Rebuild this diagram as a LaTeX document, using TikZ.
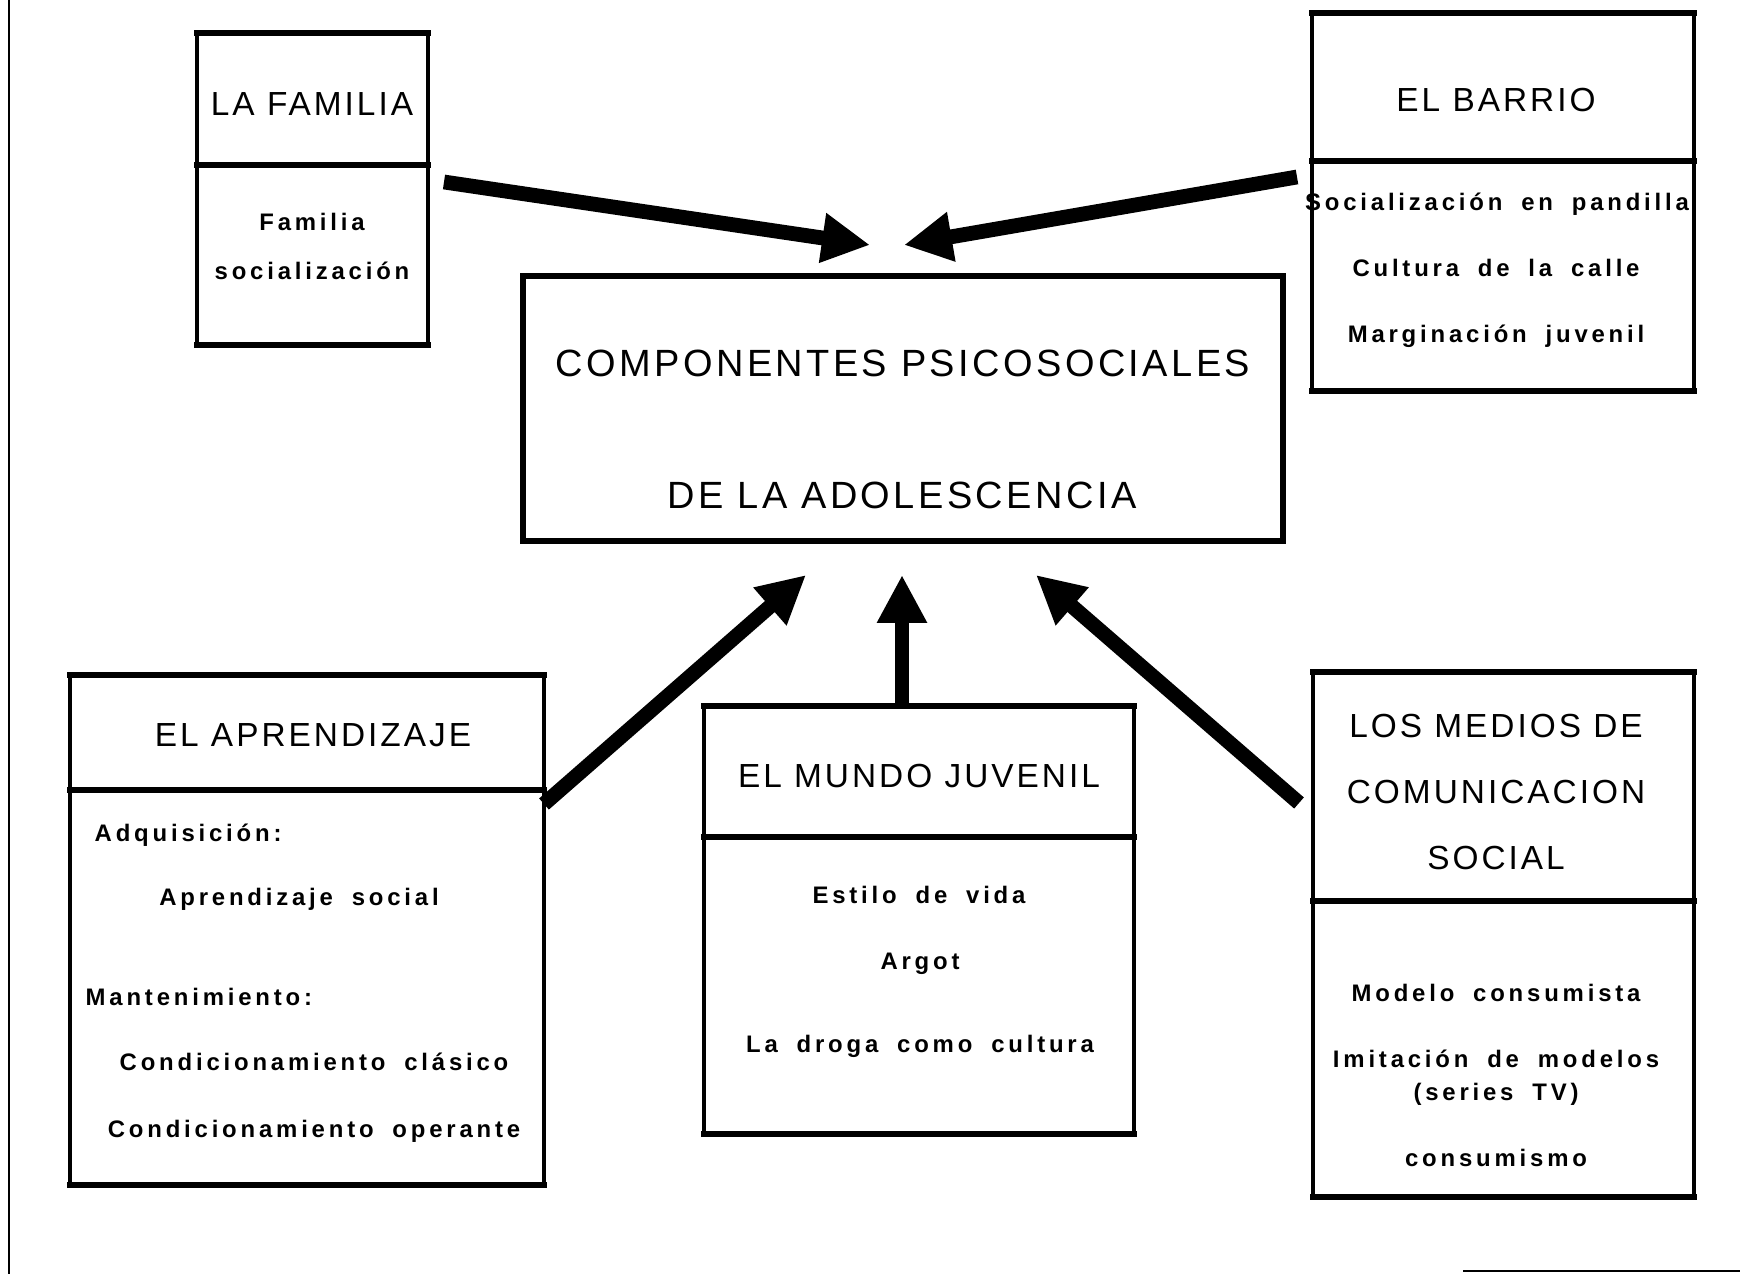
\documentclass[tikz,border=0pt]{standalone}
\usepackage{fontspec}
\setmainfont{Liberation Sans}
\newfontfamily\capsfont[LetterSpace=9]{Liberation Sans}
\newfontfamily\linesfont[LetterSpace=16,WordSpace=1.8]{Liberation Sans}
\usetikzlibrary{arrows.meta}

\begin{document}
\begin{tikzpicture}[y=-1cm,
  frame/.style={draw,line width=0.9pt,anchor=north west,inner sep=0pt,outer sep=0pt},
  head/.style={anchor=north west,inner sep=0pt,outer sep=0pt},
  rule/.style={line width=1.5pt,line cap=rect},
  headtext/.style={font=\capsfont\fontsize{9.5}{11}\selectfont,inner sep=0pt,text height=6.8pt,text depth=0pt},
  bigtext/.style={font=\capsfont\fontsize{10.8}{12}\selectfont,inner sep=0pt,text height=7.7pt,text depth=0pt},
  entry/.style={font=\linesfont\bfseries\fontsize{6.8}{8}\selectfont,inner sep=0pt,text height=4.9pt,text depth=0pt},
  feed/.style={line width=4.2pt,-{Triangle[length=0.48cm,width=0.47cm]}}]

  \useasboundingbox (0,0) rectangle (17.61,12.74);

  % edges of the scanned page
  \draw[line width=0.4pt] (0.09,0) -- (0.09,12.74);
  \draw[line width=0.4pt] (14.63,12.71) -- (17.40,12.71);

  % boxes
  \node[frame,minimum width=2.31cm,minimum height=3.12cm] (familia) at (1.97,0.33) {};
  \node[head,minimum width=2.31cm,minimum height=1.32cm] (familia-head) at (1.97,0.33) {};
  \node[frame,minimum width=3.82cm,minimum height=3.78cm] (barrio) at (13.12,0.13) {};
  \node[head,minimum width=3.82cm,minimum height=1.48cm] (barrio-head) at (13.12,0.13) {};
  \node[frame,line width=1.5pt,minimum width=7.60cm,minimum height=2.65cm] (central) at (5.23,2.76) {};
  \node[frame,minimum width=4.74cm,minimum height=5.10cm] (aprend) at (0.70,6.75) {};
  \node[head,minimum width=4.74cm,minimum height=1.15cm] (aprend-head) at (0.70,6.75) {};
  \node[frame,minimum width=4.30cm,minimum height=4.28cm] (mundo) at (7.04,7.06) {};
  \node[head,minimum width=4.30cm,minimum height=1.31cm] (mundo-head) at (7.04,7.06) {};
  \node[frame,minimum width=3.81cm,minimum height=5.25cm] (medios) at (13.13,6.72) {};
  \node[head,minimum width=3.81cm,minimum height=2.29cm] (medios-head) at (13.13,6.72) {};

  \foreach \b in {familia,barrio,central,aprend,mundo,medios}
    \draw[rule] (\b.north west) -- (\b.north east) (\b.south west) -- (\b.south east);
  \foreach \b in {familia,barrio,aprend,mundo,medios}
    \draw[rule] (\b-head.south west) -- (\b-head.south east);

  % texts
  \node[headtext] (t1) at (3.12,1.04) {LA FAMILIA};
  \node[entry] (f1) at (3.12,2.22) {Familia};
  \node[entry] (f2) at (3.12,2.71) {socialización};

  \node[headtext] (t2) at (14.96,1.00) {EL BARRIO};
  \node[entry] (b1) at (14.97,2.02) {Socialización en pandilla};
  \node[entry] (b2) at (14.96,2.68) {Cultura de la calle};
  \node[entry] (b3) at (14.96,3.34) {Marginación juvenil};

  \node[bigtext] (c1) at (9.03,3.63) {COMPONENTES PSICOSOCIALES};
  \node[bigtext] (c2) at (9.02,4.95) {DE LA ADOLESCENCIA};

  \node[headtext] (t3) at (3.13,7.35) {EL APRENDIZAJE};
  \node[entry,anchor=west] (a1) at (0.94,8.33) {Adquisición:};
  \node[entry] (a2) at (2.99,8.97) {Aprendizaje social};
  \node[entry,anchor=west] (a3) at (0.85,9.97) {Mantenimiento:};
  \node[entry] (a4) at (3.14,10.62) {Condicionamiento clásico};
  \node[entry] (a5) at (3.14,11.29) {Condicionamiento operante};

  \node[headtext] (t4) at (9.19,7.76) {EL MUNDO JUVENIL};
  \node[entry] (m1) at (9.19,8.95) {Estilo de vida};
  \node[entry] (m2) at (9.20,9.61) {Argot};
  \node[entry] (m3) at (9.20,10.44) {La droga como cultura};

  \node[headtext] (t5) at (14.96,7.26) {LOS MEDIOS DE};
  \node[headtext] (t6) at (14.96,7.92) {COMUNICACION};
  \node[headtext] (t7) at (14.96,8.58) {SOCIAL};
  \node[entry] (s1) at (14.96,9.93) {Modelo consumista};
  \node[entry] (s2) at (14.96,10.59) {Imitación de modelos};
  \node[entry] (s3) at (14.96,10.92) {(series TV)};
  \node[entry] (s4) at (14.96,11.58) {consumismo};

  % arrows into the centre
  \coordinate (tipfam) at (8.70,2.45);
  \coordinate (tipbarrio) at (9.04,2.45);
  \coordinate (tipaprend) at (8.06,5.75);
  \coordinate (tipmundo) at (9.02,5.75);
  \coordinate (tipmedios) at (10.36,5.75);

  \draw[feed] ([shift={(0.16,0.17)}]familia-head.south east) -- (tipfam);
  \draw[feed] ([shift={(-0.15,0.16)}]barrio-head.south west) -- (tipbarrio);
  \draw[feed] ([shift={(0,0.14)}]aprend-head.south east) -- (tipaprend);
  \draw[feed] (mundo.north -| tipmundo) -- (tipmundo);
  \draw[feed] ([shift={(-0.14,0.165)}]medios-head.west) -- (tipmedios);
\end{tikzpicture}
\end{document}
